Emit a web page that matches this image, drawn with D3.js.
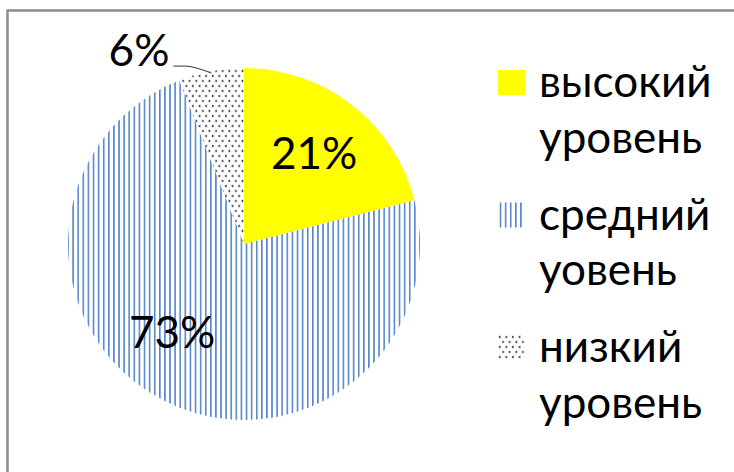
<!DOCTYPE html>
<html>
<head>
<meta charset="utf-8">
<script src="https://cdnjs.cloudflare.com/ajax/libs/d3/7.8.5/d3.min.js"></script>
<style>
  html, body { margin: 0; padding: 0; background: #fff; }
  svg { display: block; }
  text { font-family: Lato, "Open Sans", sans-serif; fill: #000; }
</style>
</head>
<body>
<div id="chart"></div>
<script>
// chart data
var categories = ['высокий уровень', 'средний уовень', 'низкий уровень'];
var legendLines = [['высокий', 'уровень'], ['средний', 'уовень'], ['низкий', 'уровень']];
var values = [21, 73, 6];
var labels = ['21%', '73%', '6%'];

var width = 734, height = 472;
var cx = 244, cy = 244, radius = 176;

var svg = d3.select('#chart').append('svg')
    .attr('width', width)
    .attr('height', height);

// fills
var defs = svg.append('defs');
var stripes = defs.append('pattern')
    .attr('id', 'stripes')
    .attr('patternUnits', 'userSpaceOnUse')
    .attr('width', 5.1).attr('height', 10);
stripes.append('rect').attr('width', 5.1).attr('height', 10).attr('fill', '#fff');
stripes.append('line')
    .attr('x1', 2.5).attr('x2', 2.5).attr('y1', 0).attr('y2', 10)
    .attr('stroke', '#5585cc').attr('stroke-width', 1.6);

var dots = defs.append('pattern')
    .attr('id', 'dots')
    .attr('patternUnits', 'userSpaceOnUse')
    .attr('width', 6.6).attr('height', 10);
dots.append('rect').attr('width', 6.6).attr('height', 10).attr('fill', '#fff');
dots.append('path')
    .attr('d', 'M2.4,0.8 L1.2,2 L2.4,3.2 M4.4,5.8 L5.6,7 L4.4,8.2')
    .attr('fill', 'none').attr('stroke', '#222').attr('stroke-width', 1);

var fills = ['#ffff00', 'url(#stripes)', 'url(#dots)'];

// frame
svg.append('path')
    .attr('d', 'M7.5,' + height + ' V10.5 H' + width)
    .attr('fill', 'none')
    .attr('stroke', '#8c8c8c')
    .attr('stroke-width', 2.5);

var pie = d3.pie().sort(null).value(function(d) { return d; });
var arcs = pie(values);
var arc = d3.arc().innerRadius(0).outerRadius(radius);
var labelArc = d3.arc().innerRadius(radius * 0.65).outerRadius(radius * 0.65);

var g = svg.append('g').attr('transform', 'translate(' + cx + ',' + cy + ')');

g.selectAll('path.slice')
    .data(arcs)
    .enter().append('path')
    .attr('class', 'slice')
    .attr('d', arc)
    .attr('fill', function(d, i) { return fills[i]; });

// labels: inside for the big slices, outside with a leader for the small one
var labelNudge = [[0, 0], [-20, -14], [0, 0]];
arcs.forEach(function(d, i) {
    if (i < 2) {
        var c = labelArc.centroid(d);
        g.append('text')
            .attr('x', c[0] + labelNudge[i][0])
            .attr('y', c[1] + labelNudge[i][1])
            .attr('dy', '0.36em')
            .attr('text-anchor', 'middle')
            .style('font-size', '44px')
            .text(labels[i]);
    } else {
        var mid = (d.startAngle + d.endAngle) / 2;
        var px = Math.sin(mid) * (radius - 2), py = -Math.cos(mid) * (radius - 2);
        var ex = px - 38, ey = py - 7;
        g.append('path')
            .attr('d', 'M' + px + ',' + py + ' Q' + (px - 18) + ',' + (ey) + ' ' + (ex + 12) + ',' + ey + ' L' + ex + ',' + ey)
            .attr('fill', 'none')
            .attr('stroke', '#333')
            .attr('stroke-width', 1);
        g.append('text')
            .attr('x', ex - 4)
            .attr('y', ey)
            .attr('text-anchor', 'end')
            .style('font-size', '44px')
            .text(labels[i]);
    }
});

// legend
var legend = svg.append('g').attr('transform', 'translate(498,70)');
var item = legend.selectAll('g.item')
    .data(categories)
    .enter().append('g')
    .attr('class', 'item')
    .attr('transform', function(d, i) { return 'translate(0,' + (i * 132.5) + ')'; });

item.append('rect')
    .attr('width', 27).attr('height', 25)
    .attr('fill', function(d, i) { return fills[i]; });

item.each(function(d, i) {
    var t = d3.select(this).append('text')
        .attr('x', 41)
        .attr('y', 27)
        .style('font-size', '44px');
    legendLines[i].forEach(function(line, j) {
        t.append('tspan').attr('x', 41).attr('dy', j === 0 ? 0 : 55.5).text(line);
    });
});
</script>
</body>
</html>
